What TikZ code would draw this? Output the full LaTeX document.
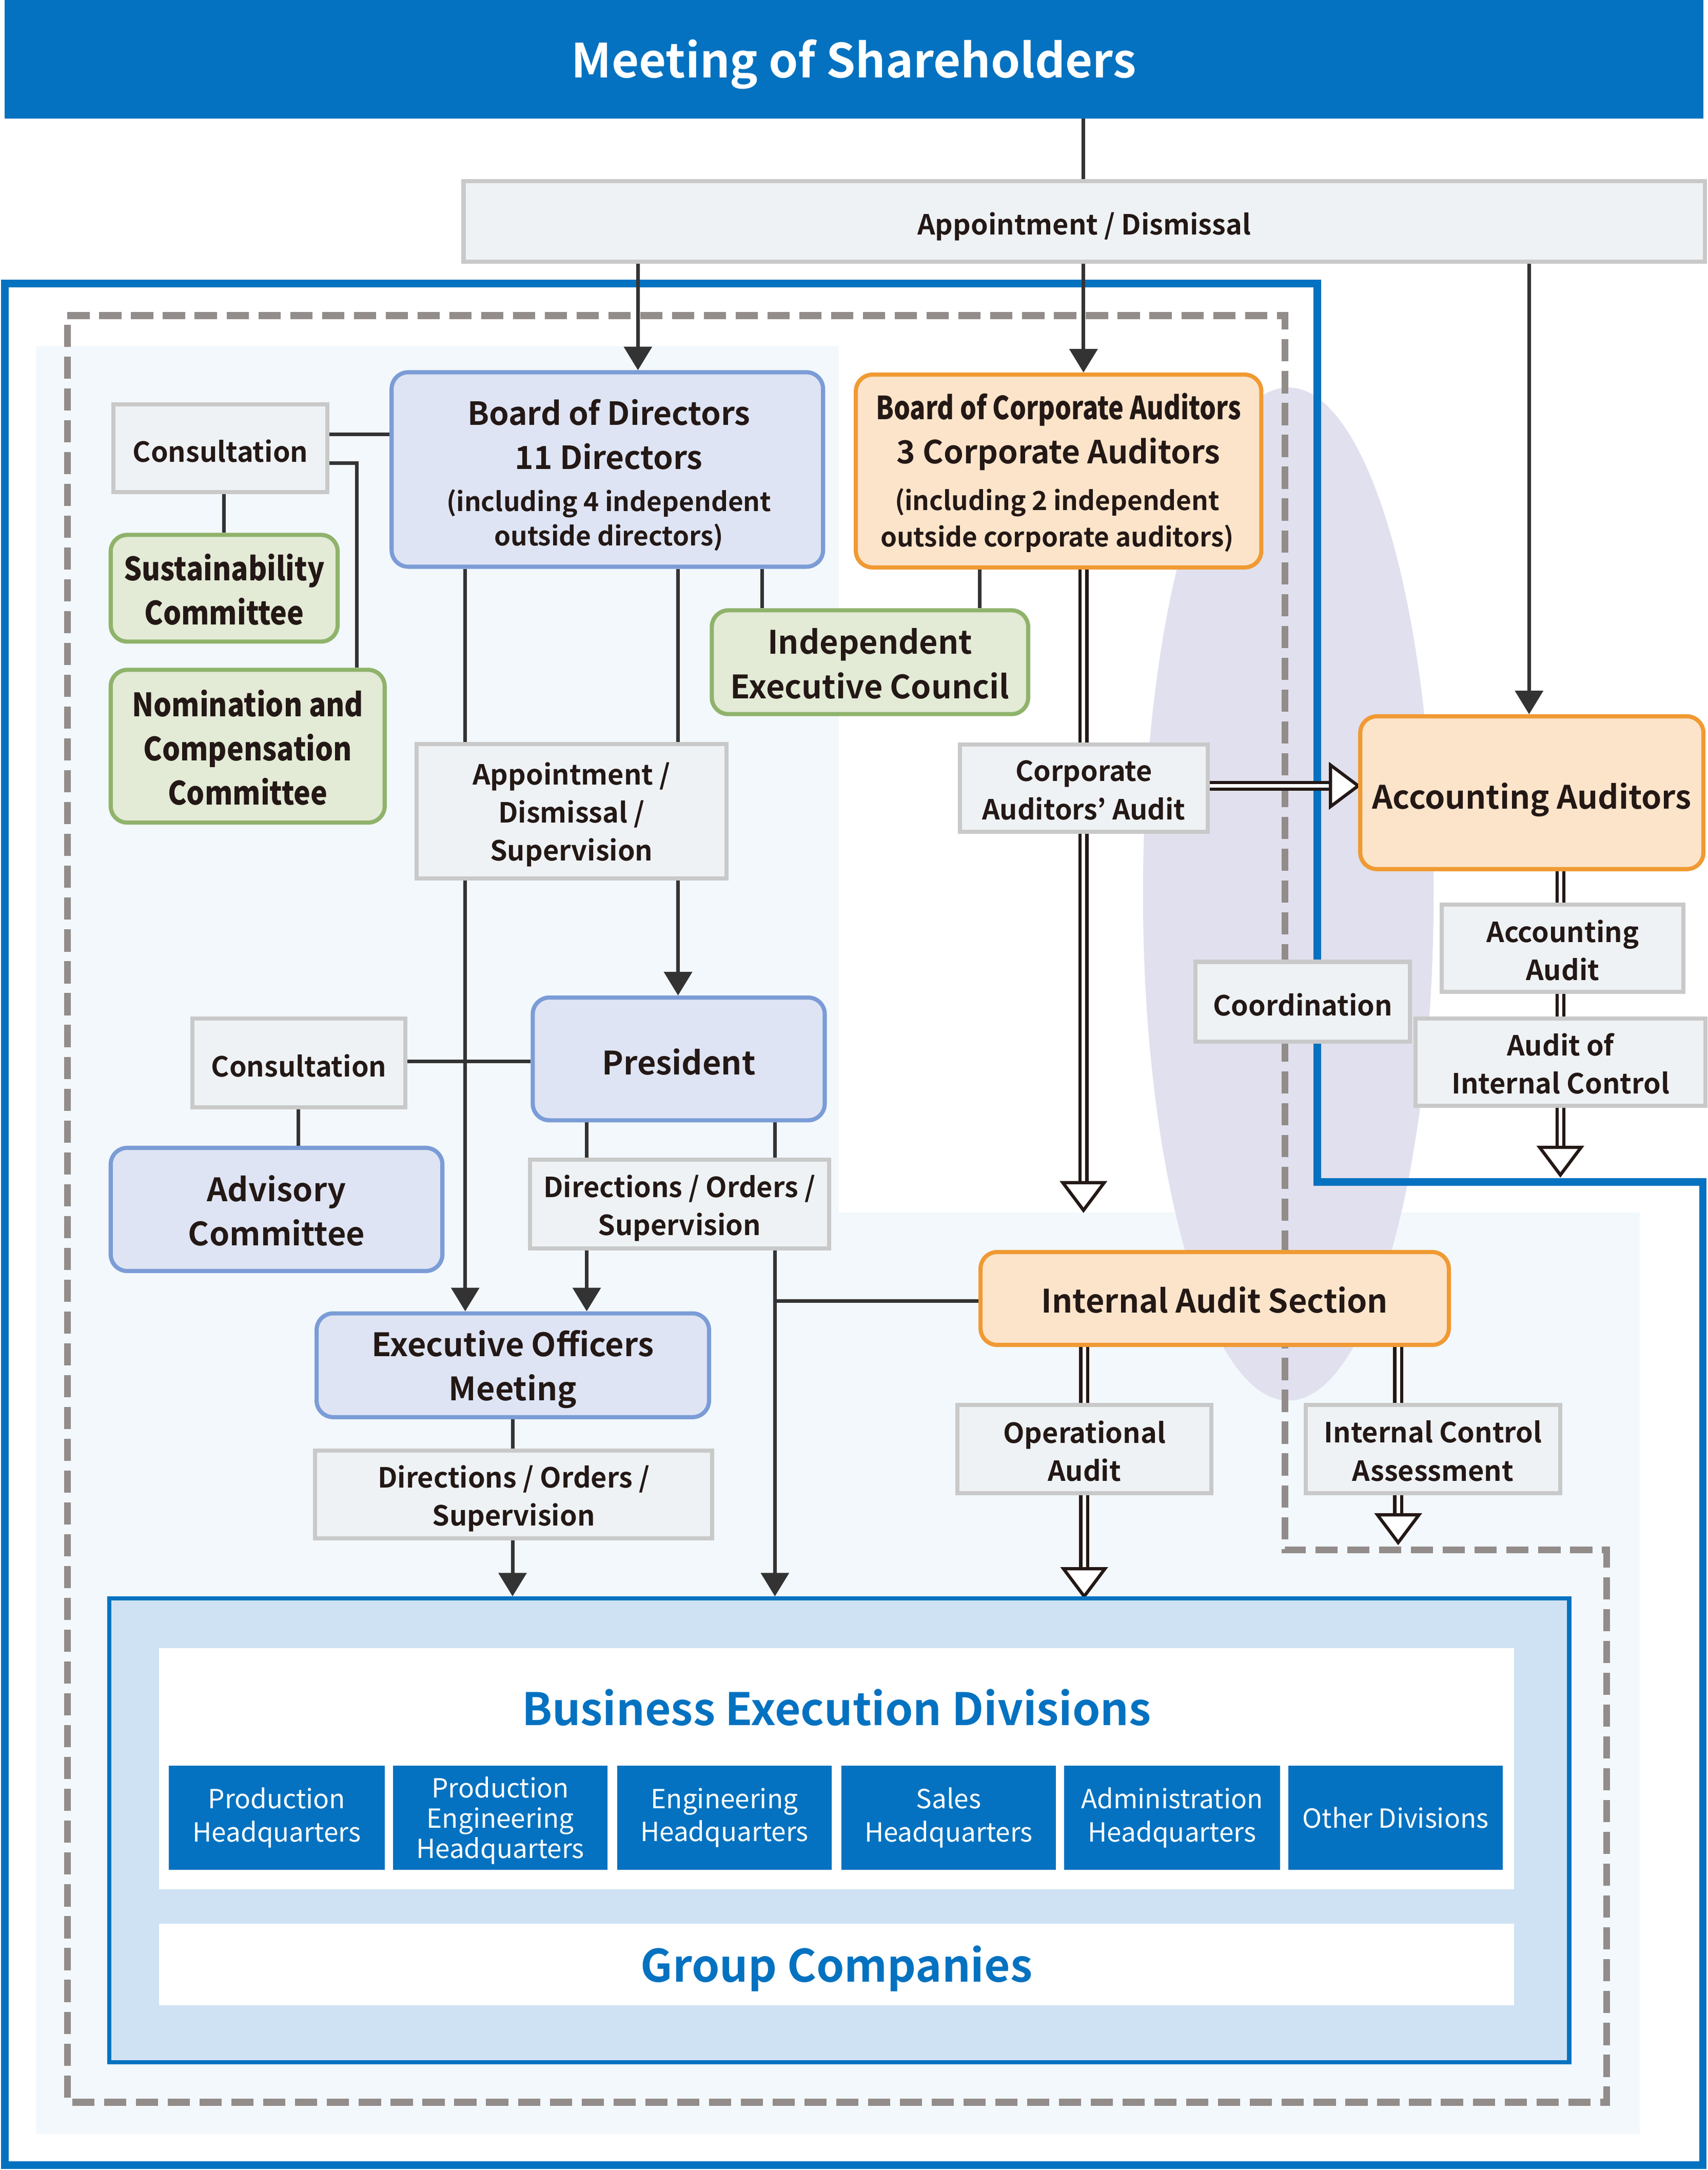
\documentclass[tikz,border=0pt]{standalone}
\usepackage{fontspec}
\setmainfont{Noto Sans CJK JP}[BoldFont={Noto Sans CJK JP Bold}]
\newfontfamily\condb{Noto Sans CJK JP Bold}[FakeStretch=0.81]
\newfontfamily\semicondb{Noto Sans CJK JP Bold}[FakeStretch=0.88]
\usetikzlibrary{arrows.meta,calc,fit}
\pgfdeclarelayer{back}\pgfdeclarelayer{mid}\pgfsetlayers{back,mid,main}
\definecolor{mainblue}{HTML}{0472C0}
\definecolor{bgblue}{HTML}{F2F8FC}
\definecolor{lav}{HTML}{E1E0EE}
\definecolor{dashgray}{HTML}{928C8A}
\definecolor{boxgray}{HTML}{EEF2F5}
\definecolor{boxline}{HTML}{C9C9C9}
\definecolor{bfill}{HTML}{DEE4F3}
\definecolor{bline}{HTML}{7B9CD6}
\definecolor{gfill}{HTML}{E3EAD6}
\definecolor{gline}{HTML}{8FB36B}
\definecolor{ofill}{HTML}{FCE4CA}
\definecolor{oline}{HTML}{F09A33}
\definecolor{bedfill}{HTML}{CFE2F3}
\definecolor{txtc}{HTML}{231815}
\definecolor{connc}{HTML}{333333}
\newcommand\fs[2]{\fontsize{#1}{#2}\selectfont}
\newcommand\bx[8][-2pt]{%
  \node[#2, fit={(#4,#5) (#6,#7)}] (#3) {};
  \node[#2, draw=none, fill=none, inner sep=0pt, yshift=#1] (#3t) at (#3.center) {#8};}
\newcommand\dvarrow[2]{%
  \draw[dbl] (#1) -- ($(#2)+(0,-20)$);
  \draw[hollow] ($(#2)+(-15,-20)$) -- ($(#2)+(15,-20)$) -- (#2) -- cycle;}
\newcommand\dharrow[2]{%
  \draw[dbl] (#1) -- ($(#2)+(-20,0)$);
  \draw[hollow] ($(#2)+(-20,-15)$) -- ($(#2)+(-20,15)$) -- (#2) -- cycle;}
\begin{document}
\begin{tikzpicture}[x=1pt,y=-1pt,
  box/.style={inner sep=0pt, line width=3pt, align=center, text=txtc, font=\bfseries\fs{20}{27.5}},
  graybox/.style={box, draw=boxline, fill=boxgray},
  bluebox/.style={box, draw=bline, fill=bfill, rounded corners=12pt, font=\bfseries\fs{23.3}{32}},
  greenbox/.style={box, draw=gline, fill=gfill, rounded corners=12pt, font=\bfseries\fs{23.3}{32}},
  orangebox/.style={box, draw=oline, fill=ofill, rounded corners=12pt, font=\bfseries\fs{23.3}{32}},
  divbox/.style={box, fill=mainblue, text=white, font=\fs{19}{24}},
  whitebox/.style={inner sep=0pt, fill=white},
  conn/.style={draw=connc, line width=2.6pt},
  arr/.style={conn, -{Triangle[length=17pt,width=20pt]}},
  dbl/.style={draw=txtc, line width=2.3pt, double=white, double distance=2.6pt},
  hollow/.style={draw=txtc, line width=2.3pt, fill=white, line join=miter},
  label/.style={text=txtc, align=center, inner sep=0pt}]
\useasboundingbox (0,0) rectangle (1234,1568);
\begin{pgfonlayer}{back}
\fill[white] (0,0) rectangle (1234,1568);
\fill[bgblue] (26,250) -- (606,250) -- (606,876) -- (1185,876) -- (1185,1542) -- (26,1542) -- cycle;
\fill[lav] (931,646) ellipse [x radius=105pt, y radius=366pt];
\draw[mainblue, line width=5.5pt, line join=miter] (3.6,205) -- (952,205) -- (952,854) -- (1230.6,854) -- (1230.6,1564.5) -- (3.6,1564.5) -- cycle;
\draw[dashgray, line width=5pt, dash pattern=on 16pt off 7pt, line join=miter] (48.7,228) -- (928.5,228) -- (928.5,1120) -- (1161,1120) -- (1161,1519) -- (48.7,1519) -- cycle;
\end{pgfonlayer}

% top
\node[inner sep=0pt, fill=mainblue, fit={(3.2,0) (1231,85.6)}] (top) {};
\node[text=white, font=\bfseries\fs{34}{40}, inner sep=0pt] (toptxt) at (617,46.5) {Meeting of Shareholders};
\bx[-3.5pt]{graybox}{app}{335}{131}{1232}{189}{Appointment / Dismissal}

% left column
\bx{graybox}{cons1}{82}{292}{236.5}{355.6}{Consultation}
\bx[-1pt]{greenbox}{sust}{80}{386.5}{244}{463.6}{\semicondb Sustainability\\\semicondb Committee}
\bx[-1pt]{greenbox}{nom}{80}{484}{278}{594.4}{\semicondb Nomination and\\\semicondb Compensation\\\semicondb Committee}
\bx{bluebox}{bod}{283}{269}{594.8}{409.5}{}
\node[label, font=\bfseries\fs{23}{32}] (bodt1) at (440,314) {Board of Directors\\11 Directors};
\node[label, font=\bfseries\fs{19}{25}] (bodt2) at (440,376) {(including 4 independent\\outside directors)};
\bx{orangebox}{bca}{618.5}{270.7}{911.5}{410}{}
\node[label, font=\bfseries\fs{23}{32}] (bcat1) at (765,312) {{\condb Board of Corporate Auditors}\\3 Corporate Auditors};
\node[label, font=\bfseries\fs{19}{26}] (bcat2) at (764,376) {(including 2 independent\\outside corporate auditors)};
\bx[-1pt]{greenbox}{iec}{514.4}{441}{743}{516}{Independent\\Executive Council}
\bx[-2.5pt]{graybox}{ads}{301}{537.6}{525}{634.6}{Appointment /\\Dismissal /\\Supervision}
\bx[-1.5pt]{graybox}{caa}{693.7}{538}{872.8}{601}{Corporate\\Auditors’ Audit}
\bx[-5pt]{orangebox}{aa}{983}{517.6}{1231}{628}{Accounting Auditors}
\bx[-1.5pt]{graybox}{acca}{1042}{653.7}{1216.6}{716.7}{Accounting\\Audit}
\bx[-1pt]{graybox}{aic}{1023}{736}{1232.5}{799}{Audit of\\Internal Control}
\bx{graybox}{coord}{864}{695}{1019}{752.7}{Coordination}
\bx{bluebox}{pres}{385}{720.8}{596}{809.5}{President}
\bx{graybox}{cons2}{139}{736}{293}{800}{Consultation}
\bx[-1pt]{bluebox}{adv}{80}{829.4}{319.7}{918.4}{Advisory\\Committee}
\bx[-3pt]{graybox}{dir1}{383}{838}{599}{902}{Directions / Orders /\\Supervision}
\bx[-3pt]{bluebox}{eom}{228.8}{949}{512.4}{1024}{Executive Officers\\Meeting}
\bx[-3pt]{graybox}{dir2}{227.6}{1048}{514.7}{1111.6}{Directions / Orders /\\Supervision}
\bx[-1pt]{orangebox}{ias}{708.6}{904.7}{1047}{971.8}{Internal Audit Section}
\bx[-1.5pt]{graybox}{opa}{692}{1015}{875.4}{1079}{Operational\\Audit}
\bx[-1.5pt]{graybox}{ica}{943.6}{1015}{1127.6}{1079}{Internal Control\\Assessment}

% business execution
\node[inner sep=0pt, draw=mainblue, line width=3pt, fill=bedfill, fit={(79,1155) (1134,1490)}] (bed) {};
\node[whitebox, fit={(115,1191) (1094,1365)}] (bedw) {};
\node[text=mainblue, font=\bfseries\fs{32.3}{36}, inner sep=0pt] (bedt) at (604.5,1234) {Business Execution Divisions};
\bx[0pt]{divbox}{d1}{122}{1276}{278}{1351}{Production\\Headquarters}
\bx{divbox, font=\fs{19}{22}}{d2}{284}{1276}{439}{1351}{Production\\Engineering\\Headquarters}
\bx[0pt]{divbox}{d3}{446}{1276}{601}{1351}{Engineering\\Headquarters}
\bx[0pt]{divbox}{d4}{608}{1276}{763}{1351}{Sales\\Headquarters}
\bx[0pt]{divbox}{d5}{769}{1276}{925}{1351}{Administration\\Headquarters}
\bx[0pt]{divbox}{d6}{931}{1276}{1086}{1351}{Other Divisions}
\bx[-3pt]{whitebox, text=mainblue, font=\bfseries\fs{32.3}{36}}{grp}{115}{1390}{1094}{1449}{Group Companies}

% connectors
\coordinate (bcaend) at (783,874.5);
\coordinate (aaend) at (1127.6,849);
\coordinate (icend) at (1010.4,1114.6);
\begin{pgfonlayer}{mid}
\draw[conn] (top.south -| 783,0) -- (app.north -| 783,0);
\draw[arr] (app.south -| 461,0) -- (bod.north -| 461,0);
\draw[arr] (app.south -| 783,0) -- (bca.north -| 783,0);
\draw[arr] (app.south -| 1105,0) -- (aa.north -| 1105,0);
\draw[conn] (cons1.east |- 0,314) -- (bod.west |- 0,314);
\draw[conn] (cons1.east |- 0,334.6) -| (nom.north -| 257.8,0);
\draw[conn] (cons1.south -| 162,0) -- (sust.north -| 162,0);
\draw[conn] (bod.south -| 550.6,0) -- (iec.north -| 550.6,0);
\draw[conn] (bca.south -| 707.8,0) -- (iec.north -| 707.8,0);
\draw[arr] (bod.south -| 336.2,0) -- (eom.north -| 336.2,0);
\draw[conn] (bod.south -| 490,0) -- (ads.north -| 490,0);
\draw[arr] (ads.south -| 490,0) -- (pres.north -| 490,0);
\draw[conn] (cons2.east |- 0,767) -- (pres.west |- 0,767);
\draw[conn] (cons2.south -| 215.5,0) -- (adv.north -| 215.5,0);
\draw[conn] (pres.south -| 424,0) -- (dir1.north -| 424,0);
\draw[arr] (dir1.south -| 424,0) -- (eom.north -| 424,0);
\draw[arr] (pres.south -| 560,0) -- (bed.north -| 560,0);
\draw[conn] (ias.west |- 0,940) -- (560,940);
\draw[conn] (eom.south -| 370.4,0) -- (dir2.north -| 370.4,0);
\draw[arr] (dir2.south -| 370.4,0) -- (bed.north -| 370.4,0);
\dvarrow{bca.south -| 783,0}{bcaend}
\dharrow{caa.east |- 0,567.8}{aa.west |- 0,567.8}
\dvarrow{aa.south -| 1127.6,0}{aaend}
\dvarrow{ias.south -| 783.5,0}{bed.north -| 783.5,0}
\dvarrow{ias.south -| 1010.4,0}{icend}
\end{pgfonlayer}
\end{tikzpicture}
\end{document}
